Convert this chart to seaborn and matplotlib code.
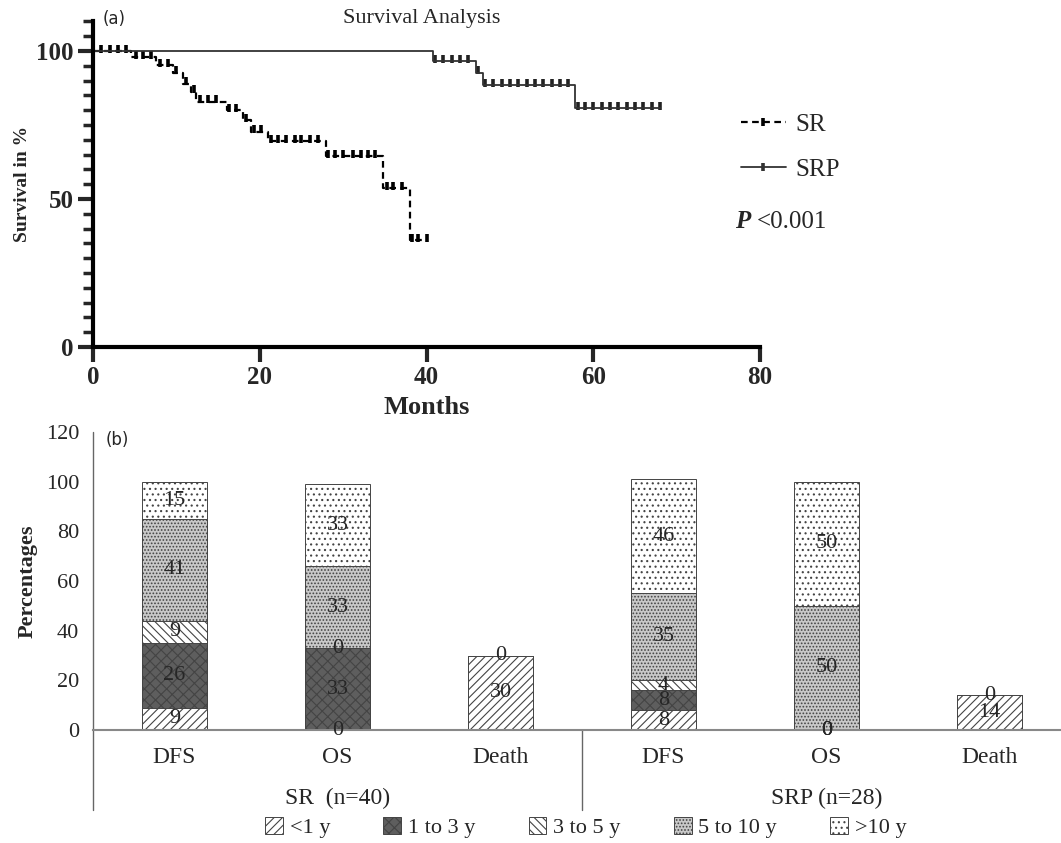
import matplotlib
matplotlib.use("Agg", force=True)
import matplotlib.pyplot as plt
from matplotlib.lines import Line2D
from matplotlib.patches import Patch
import numpy as np
import seaborn as sns

# ---- (a) Kaplan-Meier data ----
sr_time = [0, 4.6, 7.6, 9.6, 10.8, 11.8, 12.4, 16.1, 18.0, 19.0, 21.0, 28.0, 34.8, 38.0, 40.2]
sr_surv = [100, 97.9, 95.3, 92.7, 89.0, 86.3, 82.9, 80.1, 76.7, 72.7, 69.5, 64.5, 53.6, 36.1, 36.1]
sr_censor = [1, 2, 3, 4, 5.2, 6, 7, 8, 9, 10, 11.2, 12.1, 12.8, 13.8, 14.8, 16.3, 17.1,
             18.3, 19.3, 20.2, 21.3, 22.2, 23.2, 24.2, 25, 26, 27, 28.2, 29, 30, 31.2,
             32.2, 33, 33.8, 35.2, 36, 37, 38.2, 39, 40]

srp_time = [0, 40.8, 45.9, 46.8, 57.8, 68.0]
srp_surv = [100, 96.6, 92.7, 88.5, 80.6, 80.6]
srp_censor = [41, 42, 43, 44, 45, 46.2, 47, 48, 49, 50, 51, 52, 53, 54, 55, 56, 57,
              58.2, 59, 60, 61, 62, 63, 64, 65, 66, 67, 68]

# ---- (b) stacked bar data ----
groups = ["SR  (n=40)", "SRP (n=28)"]
outcomes = ["DFS", "OS", "Death"]
bar_keys = ["SR DFS", "SR OS", "SR Death", "SRP DFS", "SRP OS", "SRP Death"]
series_names = ["<1 y", "1 to 3 y", "3 to 5 y", "5 to 10 y", ">10 y"]
lt1 = [9, 0, 30, 8, 0, 14]
y1_3 = [26, 33, 0, 8, 0, 0]
y3_5 = [9, 0, None, 4, 0, None]
y5_10 = [41, 33, None, 35, 50, None]
gt10 = [15, 33, None, 46, 50, None]

styles = [
    dict(color="white", hatch="////"),
    dict(color="#5e5e5e", hatch="xxx"),
    dict(color="white", hatch="\\\\\\\\"),
    dict(color="#c9c9c9", hatch="....."),
    dict(color="white", hatch="..."),
]

sns.set_style("white")
plt.rcParams["font.family"] = ["Liberation Serif", "DejaVu Serif"]
plt.rcParams["hatch.linewidth"] = 0.8

fig = plt.figure(figsize=(10.61, 8.43), dpi=100)

# ================= (a) survival =================
ax1 = fig.add_axes([0.0877, 0.5884, 0.6286, 0.3862])


def level_at(times, surv, t):
    idx = np.searchsorted(times, t, side="right") - 1
    return np.asarray(surv)[idx]


sns.lineplot(x=sr_time, y=sr_surv, drawstyle="steps-post", color="black",
             linestyle=(0, (3, 2)), linewidth=1.6, ax=ax1, estimator=None, sort=False)
sns.lineplot(x=srp_time, y=srp_surv, drawstyle="steps-post", color="#333333",
             linewidth=1.3, ax=ax1, estimator=None, sort=False)
sns.scatterplot(x=sr_censor, y=level_at(sr_time, sr_surv, sr_censor) + 0.8,
                marker="|", s=30, linewidth=2.6, color="black", ax=ax1)
sns.scatterplot(x=srp_censor, y=level_at(srp_time, srp_surv, srp_censor) + 0.8,
                marker="|", s=30, linewidth=2.6, color="#222222", ax=ax1)

ax1.set_xlim(0, 80)
ax1.set_ylim(0, 110)
for s in ["top", "right"]:
    ax1.spines[s].set_visible(False)
for s in ["left", "bottom"]:
    ax1.spines[s].set_linewidth(3)
    ax1.spines[s].set_color("black")
ax1.set_xticks([0, 20, 40, 60, 80])
ax1.set_yticks([0, 50, 100])
ax1.set_yticks(np.arange(0, 111, 5), minor=True)
ax1.tick_params(axis="both", which="major", direction="out", length=11, width=3,
                labelsize=18, left=True, bottom=True, pad=3)
ax1.tick_params(axis="y", which="minor", direction="out", length=7, width=2.5, left=True)
for lab in ax1.get_xticklabels() + ax1.get_yticklabels():
    lab.set_fontweight("bold")
ax1.set_xlabel("Months", fontsize=19, fontweight="bold", labelpad=5)
ax1.set_ylabel("Survival in %", fontsize=14, fontweight="bold", labelpad=4)

leg_handles = [
    Line2D([], [], color="black", linestyle=(0, (3, 2)), linewidth=1.6, marker="|",
           markersize=6, markeredgewidth=2.6),
    Line2D([], [], color="#333333", linewidth=1.3, marker="|", markersize=6,
           markeredgewidth=2.6),
]
fig.legend(leg_handles, ["SR", "SRP"], loc="upper left", bbox_to_anchor=(0.677, 0.892),
           frameon=False, fontsize=18, labelspacing=0.9, handlelength=1.8,
           handletextpad=0.4)
fig.text(735 / 1061, 1 - 222 / 843, "P", fontsize=18, fontweight="bold",
         fontstyle="italic", va="center")
fig.text(757 / 1061, 1 - 222 / 843, "<0.001", fontsize=18, va="center")
fig.text(422 / 1061, 1 - 18 / 843, "Survival Analysis", fontsize=16, ha="center", va="center")
fig.text(114 / 1061, 1 - 19 / 843, "(a)", fontsize=12, ha="center", va="center",
         family="DejaVu Sans")

# ================= (b) stacked bars =================
ax2 = fig.add_axes([0.0877, 0.134, 0.9123, 0.3535])

values = [lt1, y1_3, y3_5, y5_10, gt10]
filled = np.array([[0 if v is None else v for v in row] for row in values], dtype=float)
cum = np.cumsum(filled, axis=0)

# draw cumulative heights from the top series down, so lower layers cover upper ones
for i in range(len(values) - 1, -1, -1):
    sns.barplot(x=bar_keys, y=cum[i], order=bar_keys, width=0.4, saturation=1,
                color=styles[i]["color"], hatch=styles[i]["hatch"], edgecolor="#444444",
                linewidth=0.7, errorbar=None, ax=ax2)

for i, row in enumerate(values):
    for j, v in enumerate(row):
        if v is None:
            continue
        base = cum[i][j] - filled[i][j]
        ax2.text(j, base + v / 2, str(v), ha="center", va="center", fontsize=16)

ax2.set_xlim(-0.5, -0.5 + (1061 - 93) / 163)
ax2.set_ylim(0, 120)
ax2.set_yticks(range(0, 121, 20))
ax2.set_xticks(range(len(bar_keys)))
ax2.set_xticklabels(outcomes * 2)
ax2.tick_params(axis="x", length=0, pad=12, labelsize=17)
ax2.tick_params(axis="y", length=0, pad=10, labelsize=16)
ax2.set_xlabel("")
ax2.set_ylabel("Percentages", fontsize=16, fontweight="bold", labelpad=6)
for s in ["top", "right", "left"]:
    ax2.spines[s].set_visible(False)
ax2.spines["bottom"].set_color("#888888")
ax2.spines["bottom"].set_linewidth(1.5)

tr = ax2.get_xaxis_transform()
ax2.plot([-0.5, -0.5], [-0.268, 1.0], color="#666666", linewidth=1.0,
         transform=tr, clip_on=False)
ax2.plot([2.5, 2.5], [-0.268, 0.0], color="#666666", linewidth=1.0,
         transform=tr, clip_on=False)
for k, g in enumerate(groups):
    ax2.text(1 + 3 * k, -0.228, g, transform=tr, ha="center", va="center", fontsize=17)

fig.text(117 / 1061, 1 - 440 / 843, "(b)", fontsize=12, ha="center", va="center",
         family="DejaVu Sans")

leg2 = [Patch(facecolor=st["color"], hatch=st["hatch"], edgecolor="#444444", linewidth=0.7)
        for st in styles]
fig.legend(leg2, series_names, loc="center", bbox_to_anchor=(0.552, 0.018), ncol=5,
           frameon=False, fontsize=16, handlelength=0.8, handleheight=0.8,
           handletextpad=0.3, columnspacing=2.4)

fig.savefig("out.png", dpi=100)
